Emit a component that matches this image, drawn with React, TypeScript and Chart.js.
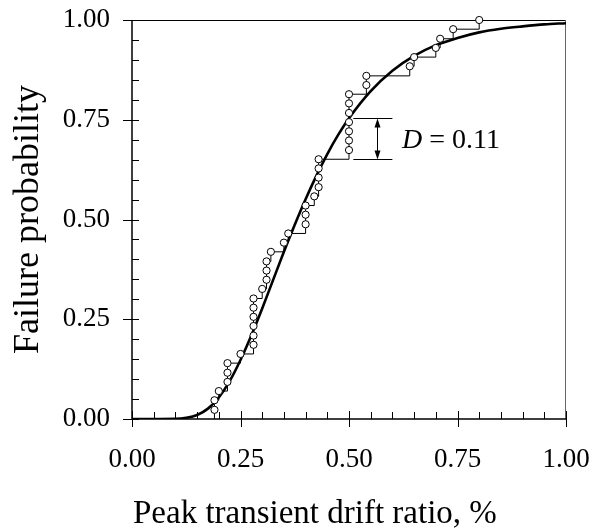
import React, { useEffect, useRef } from "react";
import { Chart, registerables } from "chart.js";

Chart.register(...registerables);

// Empirical CDF (observed failures): peak transient drift ratio (%) and cumulative probability
const obsDrift = [
  0.19, 0.19, 0.2, 0.22, 0.22, 0.22, 0.25, 0.28, 0.28, 0.28, 0.28, 0.28, 0.28,
  0.3, 0.31, 0.31, 0.31, 0.32, 0.35, 0.36, 0.4, 0.4, 0.4, 0.42, 0.43, 0.43,
  0.43, 0.43, 0.5, 0.5, 0.5, 0.5, 0.5, 0.5, 0.5, 0.54, 0.54, 0.64, 0.65, 0.7,
  0.71, 0.74, 0.8,
];
const obsProb = [
  0.023, 0.047, 0.07, 0.093, 0.116, 0.14, 0.163, 0.186, 0.209, 0.233, 0.256,
  0.279, 0.302, 0.326, 0.349, 0.372, 0.395, 0.419, 0.442, 0.465, 0.488, 0.512,
  0.535, 0.558, 0.581, 0.605, 0.628, 0.651, 0.674, 0.698, 0.721, 0.744, 0.767,
  0.791, 0.814, 0.837, 0.86, 0.884, 0.907, 0.93, 0.953, 0.977, 1.0,
];

// Fitted fragility curve
const fitDrift = [
  0, 0.05, 0.1, 0.125, 0.15, 0.175, 0.2, 0.225, 0.25, 0.275, 0.3, 0.325, 0.35,
  0.375, 0.4, 0.425, 0.45, 0.475, 0.5, 0.55, 0.6, 0.65, 0.7, 0.75, 0.8, 0.85,
  0.9, 0.95, 1.0,
];
const fitProb = [
  0, 0, 0.0004, 0.003, 0.01, 0.026, 0.054, 0.095, 0.148, 0.209, 0.277, 0.348,
  0.419, 0.487, 0.551, 0.61, 0.664, 0.712, 0.754, 0.822, 0.873, 0.91, 0.937,
  0.955, 0.969, 0.978, 0.984, 0.989, 0.992,
];

// Tick labels
const xTickValues = [0, 0.25, 0.5, 0.75, 1.0];
const yTickValues = [0, 0.25, 0.5, 0.75, 1.0];

// Kolmogorov-Smirnov statistic annotation
const ksX = 0.565;
const ksBracketFrom = 0.51;
const ksBracketTo = 0.6;
const ksLow = 0.651;
const ksHigh = 0.754;
const ksValue = "0.11";

const xTitle = "Peak transient drift ratio, %";
const yTitle = "Failure probability";

const SERIF = "'Liberation Serif', 'Times New Roman', serif";

const decorPlugin = {
  id: "decor",
  beforeDatasetsDraw(chart: any) {
    const { ctx, chartArea: a, scales } = chart;
    const x = scales.x;
    const y = scales.y;
    ctx.save();
    ctx.lineWidth = 1;
    ctx.strokeStyle = "#000";
    ctx.beginPath();
    ctx.moveTo(a.left, a.top + 0.5);
    ctx.lineTo(a.right, a.top + 0.5);
    ctx.stroke();
    ctx.strokeStyle = "#666";
    ctx.beginPath();
    ctx.moveTo(a.right - 0.5, a.top);
    ctx.lineTo(a.right - 0.5, a.bottom);
    ctx.stroke();
    ctx.strokeStyle = "#000";
    ctx.lineWidth = 1.5;
    ctx.beginPath();
    ctx.moveTo(a.left, a.top);
    ctx.lineTo(a.left, a.bottom);
    ctx.lineTo(a.right, a.bottom);
    ctx.stroke();
    ctx.lineWidth = 1;
    for (let i = 0; i <= 20; i++) {
      const v = i / 20;
      const major = i % 5 === 0;
      const px = Math.round(x.getPixelForValue(v)) + 0.5;
      ctx.beginPath();
      ctx.moveTo(px, a.bottom - (major ? 8 : 7));
      ctx.lineTo(px, a.bottom + (major ? 8 : 0));
      ctx.stroke();
      const py = Math.round(y.getPixelForValue(v)) + 0.5;
      ctx.beginPath();
      ctx.moveTo(a.left - (major ? 9 : 0), py);
      ctx.lineTo(a.left + 7, py);
      ctx.stroke();
    }
    ctx.restore();
  },
  afterDraw(chart: any) {
    const { ctx, scales } = chart;
    const x = scales.x;
    const y = scales.y;
    ctx.save();
    ctx.fillStyle = "#000";
    ctx.strokeStyle = "#000";
    const bx = Math.round(x.getPixelForValue(ksX)) + 0.5;
    const yl = Math.round(y.getPixelForValue(ksLow)) + 0.5;
    const yh = Math.round(y.getPixelForValue(ksHigh)) + 0.5;
    const x0 = x.getPixelForValue(ksBracketFrom);
    const x1 = x.getPixelForValue(ksBracketTo);
    ctx.lineWidth = 1;
    ctx.beginPath();
    ctx.moveTo(x0, yl);
    ctx.lineTo(x1, yl);
    ctx.moveTo(x0, yh);
    ctx.lineTo(x1, yh);
    ctx.moveTo(bx, yl - 6);
    ctx.lineTo(bx, yh + 6);
    ctx.stroke();
    ctx.beginPath();
    ctx.moveTo(bx, yh);
    ctx.lineTo(bx - 3, yh + 9);
    ctx.lineTo(bx + 3, yh + 9);
    ctx.closePath();
    ctx.fill();
    ctx.beginPath();
    ctx.moveTo(bx, yl);
    ctx.lineTo(bx - 3, yl - 9);
    ctx.lineTo(bx + 3, yl - 9);
    ctx.closePath();
    ctx.fill();
    const ty = (yl + yh) / 2 + 9;
    ctx.textBaseline = "alphabetic";
    ctx.textAlign = "left";
    ctx.font = `italic 28px ${SERIF}`;
    const tx = 402;
    ctx.fillText("D", tx, ty);
    const dw = ctx.measureText("D").width;
    ctx.font = `28px ${SERIF}`;
    ctx.fillText(" = " + ksValue, tx + dw, ty);
    ctx.font = `33px ${SERIF}`;
    ctx.textAlign = "left";
    ctx.fillText(xTitle, 133, 523);
    ctx.font = `36px ${SERIF}`;
    ctx.translate(37.5, (chart.chartArea.top + chart.chartArea.bottom) / 2);
    ctx.rotate(-Math.PI / 2);
    ctx.textAlign = "center";
    ctx.fillText(yTitle, 0, 0);
    ctx.restore();
  },
};

function noPad(s: any) {
  s.paddingTop = 0;
  s.paddingBottom = 0;
  s.paddingLeft = 0;
  s.paddingRight = 0;
}

export default function App() {
  const ref = useRef<HTMLCanvasElement | null>(null);
  useEffect(() => {
    if (!ref.current) return;
    const chart = new Chart(ref.current, {
      type: "scatter",
      data: {
        datasets: [
          {
            label: "Observed",
            data: obsDrift.map((v, i) => ({ x: v, y: obsProb[i] })),
            showLine: false,
            pointRadius: 3.6,
            pointBackgroundColor: "#fff",
            pointBorderColor: "#000",
            pointBorderWidth: 1,
            clip: false,
          } as any,
          {
            label: "Steps",
            data: [{ x: obsDrift[0], y: 0 }].concat(
              obsDrift.map((v, i) => ({ x: v, y: obsProb[i] }))
            ),
            showLine: true,
            stepped: "before",
            borderColor: "#000",
            borderWidth: 1,
            pointRadius: 0,
          } as any,
          {
            label: "Fit",
            data: fitDrift.map((v, i) => ({ x: v, y: fitProb[i] })),
            showLine: true,
            cubicInterpolationMode: "monotone",
            borderColor: "#000",
            borderWidth: 2.6,
            pointRadius: 0,
          } as any,
        ],
      },
      options: {
        responsive: false,
        animation: false,
        layout: { padding: { left: 0, right: 26, top: 20, bottom: 0 } },
        plugins: {
          legend: { display: false },
          tooltip: { enabled: false },
        },
        scales: {
          x: {
            type: "linear",
            min: 0,
            max: 1,
            grid: { display: false, drawTicks: false },
            border: { display: false },
            afterBuildTicks: (s: any) => {
              s.ticks = xTickValues.map((v) => ({ value: v }));
            },
            afterFit: (s: any) => {
              s.height = 112;
              noPad(s);
            },
            ticks: {
              padding: 25,
              color: "#000",
              font: { family: SERIF, size: 27 },
              maxRotation: 0,
              callback: (v: any) => Number(v).toFixed(2),
            },
          },
          y: {
            type: "linear",
            min: 0,
            max: 1,
            grid: { display: false, drawTicks: false },
            border: { display: false },
            afterBuildTicks: (s: any) => {
              s.ticks = yTickValues.map((v) => ({ value: v }));
            },
            afterFit: (s: any) => {
              s.width = 132;
              noPad(s);
            },
            ticks: {
              padding: 22,
              color: "#000",
              font: { family: SERIF, size: 27 },
              callback: (v: any) => Number(v).toFixed(2),
            },
          },
        },
      },
      plugins: [decorPlugin],
    });
    return () => chart.destroy();
  }, []);
  return (
    <div style={{ position: "fixed", left: 0, top: 0, width: 592, height: 531, background: "#fff" }}>
      <canvas ref={ref} width={592} height={531} style={{ display: "block" }} />
    </div>
  );
}
